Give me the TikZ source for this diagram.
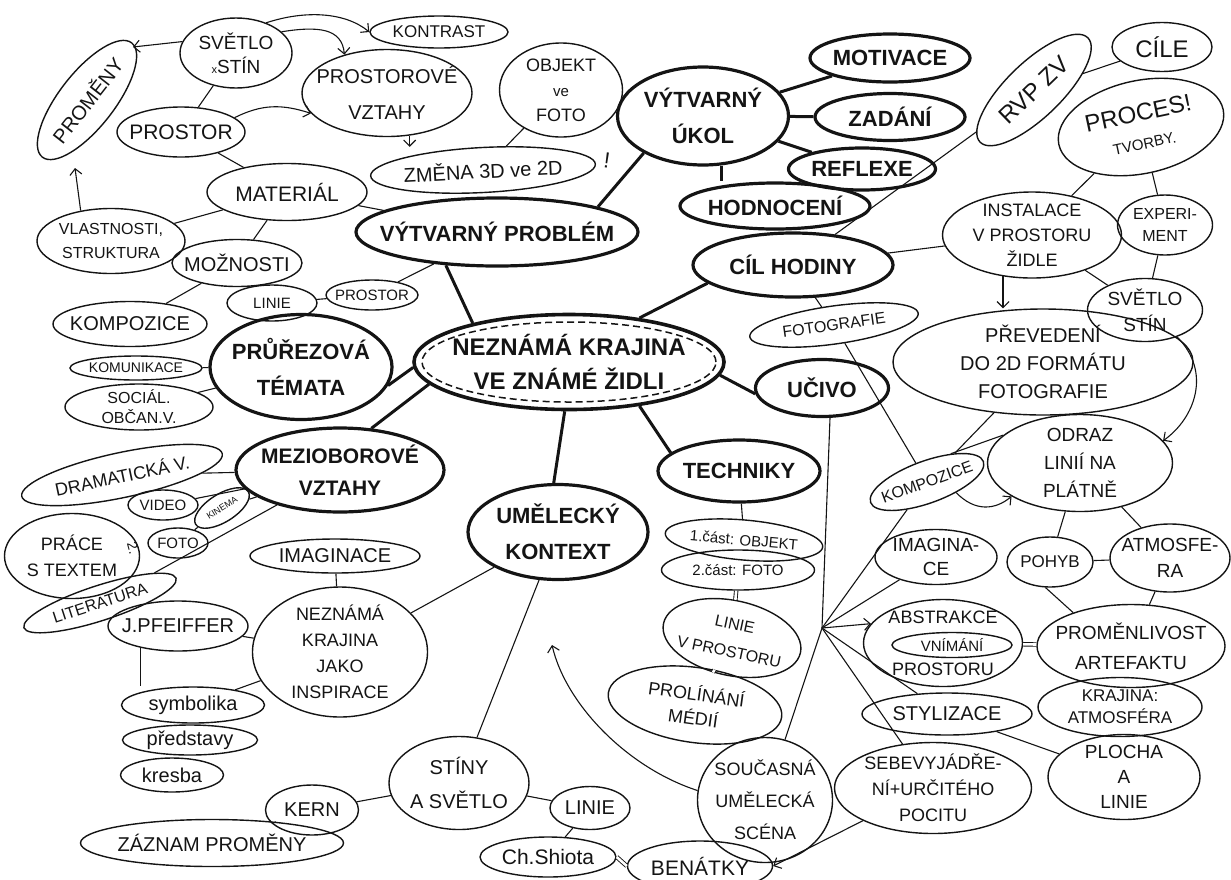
\documentclass[tikz,border=0pt]{standalone}
\usepackage{fontspec}
\setmainfont{Liberation Sans}
\usepackage{xcolor}
\usepackage{tikz}
\usetikzlibrary{arrows.meta, shapes.geometric}
\definecolor{inkP}{HTML}{141414}
\newcommand{\fntS}{\fontsize{15}{18}\selectfont}
\newcommand{\fntXS}{\fontsize{11}{12}\selectfont}
\tikzset{
  bubble/.style={ellipse, draw=inkP, line width=1.4pt, text=inkP, align=center,
    inner sep=-40pt, font=\fontsize{20}{28}\selectfont},
  topic/.style={bubble, line width=3.2pt, font=\fontsize{22}{36}\selectfont\bfseries},
  sz/.style 2 args={minimum width=#1pt, minimum height=#2pt},
  link/.style={draw=inkP, line width=1.1pt},
  branch/.style={draw=inkP, line width=3pt},
  arr/.style={link, -{Straight Barb[length=6pt, width=12pt]}},
  dbl/.style={draw=inkP, double, double distance=2.6pt, line width=0.9pt},
}

\begin{document}
\begin{tikzpicture}[x=1pt, y=-1pt]
\useasboundingbox (0,0) rectangle (1231,879);
\node[topic, sz={310}{95}, line width=3.6pt, font=\fontsize{24}{34}\selectfont\bfseries] (cen) at (569,362) {NEZNÁMÁ KRAJINA\\VE ZNÁMÉ ŽIDLI};
\draw[inkP, line width=1.5pt, dash pattern=on 7pt off 4pt] (cen.center) ellipse (147pt and 40pt);
\node[topic, sz={171}{98}] (ukol) at (703,116) {VÝTVARNÝ\\ÚKOL};
\node[topic, sz={160}{48}] (motiv) at (890,58) {MOTIVACE};
\node[topic, sz={150}{47}] (zadani) at (890,117) {ZADÁNÍ};
\node[topic, sz={147}{42}] (reflex) at (862,169) {REFLEXE};
\node[topic, sz={190}{46}] (hodnoc) at (775,206) {HODNOCENÍ};
\node[topic, sz={282}{68}] (problem) at (497,232) {VÝTVARNÝ PROBLÉM};
\node[topic, sz={200}{64}] (cil) at (793,265) {CÍL HODINY};
\node[topic, sz={182}{105}] (prurez) at (301,367) {PRŮŘEZOVÁ\\TÉMATA};
\node[topic, sz={208}{84}, font=\fontsize{21}{32}\selectfont\bfseries] (meziob) at (340,470) {MEZIOBOROVÉ\\VZTAHY};
\node[topic, sz={180}{95}] (umel) at (558,532) {UMĚLECKÝ\\KONTEXT};
\node[topic, sz={162}{62}] (techn) at (739,471) {TECHNIKY};
\node[topic, sz={133}{57}] (ucivo) at (822,388) {UČIVO};

\node[bubble, sz={145}{55}, rotate=52] (promeny) at (87,100) {PROMĚNY};
\node[bubble, sz={112}{70}, font=\fontsize{19}{24}\selectfont] (svetlo) at (236,53) {SVĚTLO\\{\fntXS x}STÍN};
\node[bubble, sz={138}{32}, font=\fontsize{17}{20}\selectfont] (kontr) at (439,32) {KONTRAST};
\node[bubble, sz={170}{87}, font=\fontsize{20}{36}\selectfont] (prostv) at (387,93) {PROSTOROVÉ\\VZTAHY};
\node[bubble, sz={128}{50}, font=\fontsize{21}{24}\selectfont] (prostor) at (181,132) {PROSTOR};
\node[bubble, sz={123}{94}, font=\fontsize{18}{25}\selectfont] (objekt) at (561,90) {OBJEKT\\{\fontsize{15}{15}\selectfont ve}\\FOTO};
\node[bubble, sz={225}{45}, rotate=3] (zmena) at (483,170) {ZMĚNA 3D ve 2D};
\node[text=inkP, font=\fontsize{22}{22}\selectfont, rotate=-8] (excl) at (607,160) {!};
\node[bubble, sz={160}{57}, font=\fontsize{21}{24}\selectfont] (mater) at (287,192) {MATERIÁL};
\node[bubble, sz={148}{65}, font=\fontsize{16}{24}\selectfont] (vlast) at (111,241) {VLASTNOSTI,\\STRUKTURA};
\node[bubble, sz={130}{47}] (mozn) at (237,263) {MOŽNOSTI};
\node[bubble, sz={90}{36}, font=\fntS] (linieA) at (272,303) {LINIE};
\node[bubble, sz={92}{30}, font=\fntS] (prostorB) at (372,295) {PROSTOR};
\node[bubble, sz={154}{45}] (komp) at (130,324) {KOMPOZICE};
\node[bubble, sz={132}{24}, font=\fontsize{14}{15}\selectfont] (komun) at (136,368) {KOMUNIKACE};
\node[bubble, sz={148}{46}, font=\fontsize{16}{20}\selectfont] (social) at (139,407) {SOCIÁL.\\OBČAN.V.};
\node[bubble, sz={205}{45}, rotate=12, font=\fontsize{18}{20}\selectfont] (dramat) at (122,475) {DRAMATICKÁ V.};
\node[bubble, sz={70}{30}, font=\fntS] (video) at (163,505) {VIDEO};
\node[bubble, sz={62}{28}, rotate=32, font=\fontsize{9}{10}\selectfont] (kinema) at (222,508) {KINEMA};
\node[bubble, sz={60}{30}, font=\fntS] (fotoA) at (178,543) {FOTO};
\node[bubble, sz={135}{85}, font=\fontsize{18}{26}\selectfont] (prace) at (72,556) {PRÁCE\\S TEXTEM};
\node[text=inkP, font=\fontsize{14}{14}\selectfont, rotate=-75] (two) at (133,548) {2.};
\node[bubble, sz={160}{35}, rotate=18, font=\fontsize{16}{18}\selectfont] (liter) at (100,603) {LITERATURA};
\node[bubble, sz={170}{34}] (imagA) at (335,556) {IMAGINACE};
\node[bubble, sz={175}{130}, font=\fontsize{18}{26}\selectfont] (inspir) at (340,652) {NEZNÁMÁ\\KRAJINA\\JAKO\\INSPIRACE};
\node[bubble, sz={140}{50}] (pfeif) at (178,626) {J.PFEIFFER};
\node[bubble, sz={143}{36}] (symb) at (193,705) {symbolika};
\node[bubble, sz={135}{30}] (predst) at (190,740) {představy};
\node[bubble, sz={103}{34}] (kresba) at (172,775) {kresba};
\node[bubble, sz={93}{50}] (kern) at (312,810) {KERN};
\node[bubble, sz={263}{47}] (zaznam) at (212,843) {ZÁZNAM PROMĚNY};
\node[bubble, sz={140}{93}, font=\fontsize{20}{34}\selectfont] (stiny) at (459,783) {STÍNY\\A SVĚTLO};
\node[bubble, sz={80}{43}] (linieB) at (590,808) {LINIE};
\node[bubble, sz={136}{40}, font=\fontsize{21}{22}\selectfont] (shiota) at (548,857) {Ch.Shiota};
\node[bubble, sz={145}{50}, font=\fontsize{21}{22}\selectfont] (benat) at (700,866) {BENÁTKY};
\node[bubble, sz={158}{40}, rotate=-5, font=\fntS] (castA) at (744,540) {1.část: OBJEKT};
\node[bubble, sz={153}{40}, font=\fntS] (castB) at (738,570) {2.část: FOTO};
\node[bubble, sz={140}{75}, rotate=-12, font=\fontsize{16}{28}\selectfont] (liniepr) at (732,638) {LINIE\\V PROSTORU};
\node[bubble, sz={175}{75}, rotate=-8, font=\fontsize{18}{24}\selectfont] (prolin) at (695,705) {PROLÍNÁNÍ\\MÉDIÍ};
\node[bubble, sz={135}{125}, font=\fontsize{18}{32}\selectfont] (soucas) at (765,800) {SOUČASNÁ\\UMĚLECKÁ\\SCÉNA};
\node[bubble, sz={197}{91}, font=\fontsize{18}{26}\selectfont] (sebev) at (933,788) {SEBEVYJÁDŘE-\\NÍ+URČITÉHO\\POCITU};
\node[bubble, sz={170}{42}] (styliz) at (947,714) {STYLIZACE};
\node[bubble, sz={159}{87}, font=\fontsize{18}{26}\selectfont] (abstr) at (943,643) {ABSTRAKCE\\\mbox{}\\PROSTORU};
\node[bubble, sz={120}{25}, font=\fontsize{15}{16}\selectfont] (vnim) at (952,645) {VNÍMÁNÍ};
\node[bubble, sz={188}{83}, font=\fontsize{19}{30}\selectfont] (promenl) at (1131,646) {PROMĚNLIVOST\\ARTEFAKTU};
\node[bubble, sz={164}{59}, font=\fontsize{17}{22}\selectfont] (krajatm) at (1120,707) {KRAJINA:\\ATMOSFÉRA};
\node[bubble, sz={152}{85}, font=\fontsize{19}{25}\selectfont] (plocha) at (1124,777) {PLOCHA\\A\\LINIE};
\node[bubble, sz={122}{55}, font=\fontsize{19}{24}\selectfont] (imagB) at (936,557) {IMAGINA-\\CE};
\node[bubble, sz={86}{50}, font=\fontsize{17}{20}\selectfont] (pohyb) at (1050,562) {POHYB};
\node[bubble, sz={120}{68}, font=\fontsize{19}{26}\selectfont] (atmosf) at (1170,558) {ATMOSFE-\\RA};
\node[bubble, sz={185}{97}, font=\fontsize{19}{28}\selectfont] (odraz) at (1080,463) {ODRAZ\\LINIÍ NA\\PLÁTNĚ};
\node[bubble, sz={120}{42}, rotate=20, font=\fontsize{16}{18}\selectfont] (kompB) at (927,482) {KOMPOZICE};
\node[bubble, sz={300}{106}, font=\fontsize{20}{28}\selectfont] (preved) at (1043,362) {PŘEVEDENÍ\\DO 2D FORMÁTU\\FOTOGRAFIE};
\node[bubble, sz={170}{38}, rotate=8, font=\fontsize{16}{18}\selectfont] (fotog) at (834,325) {FOTOGRAFIE};
\node[bubble, sz={115}{63}, font=\fontsize{19}{26}\selectfont] (svetloB) at (1145,310) {SVĚTLO\\STÍN};
\node[bubble, sz={179}{86}, font=\fontsize{18}{25}\selectfont] (instal) at (1032,235) {INSTALACE\\V PROSTORU\\ŽIDLE};
\node[bubble, sz={95}{60}, font=\fontsize{16}{22}\selectfont] (exper) at (1165,225) {EXPERI-\\MENT};
\node[bubble, sz={168}{93}, rotate=12, font=\fontsize{24}{28}\selectfont] (proces) at (1141,127) {PROCES!\\{\fntS TVORBY.}};
\node[bubble, sz={150}{55}, rotate=44, font=\fontsize{24}{26}\selectfont] (rvp) at (1034,90) {RVP ZV};
\node[bubble, sz={100}{49}, font=\fontsize{24}{26}\selectfont] (cile) at (1162,47) {CÍLE};

\coordinate (hub) at (822,628);
\coordinate (tipP) at (133,47);
\coordinate (tipV) at (75,168);
\coordinate (tipK) at (552,645);

\draw[branch] (cen.158) -- (problem.213);
\draw[branch] (cen.182) -- (prurez.-12);
\draw[branch] (cen.189) -- (meziob.53);
\draw[branch] (cen.-95) -- (umel.95);
\draw[branch] (cen.-32) -- (techn.165);
\draw[branch] (cen.-5) -- (ucivo.185);
\draw[branch] (cen.32) -- (cil.192);
\draw[branch] (problem.14) -- (ukol.212);
\draw[branch] (ukol) -- (motiv);
\draw[branch] (ukol) -- (zadani);
\draw[branch] (ukol) -- (reflex);
\draw[branch] (ukol.-70) -- (ukol.-70 |- hodnoc.north);

\draw[arr] (svetlo.168) -- (tipP);
\draw[arr] (svetlo.45) .. controls (305,10) and (345,12) .. (kontr.west);
\draw[arr] (svetlo.25) .. controls (318,26) and (342,28) .. (prostv.138);
\draw[link] (svetlo) -- (prostor);
\draw[arr] (prostor.15) .. controls (262,104) and (282,104) .. (prostv.195);
\draw[arr] (prostv.-62) -- (prostv.-62 |- zmena.north);
\draw[link] (objekt) -- (zmena);
\draw[link] (prostor) -- (mater);
\draw[link] (mater) -- (problem);
\draw[link] (mater) -- (vlast);
\draw[arr] (vlast.135) -- (tipV);
\draw[link] (mater) -- (mozn);
\draw[link] (mozn) -- (komp);
\draw[link] (mozn) -- (linieA);
\draw[link] (linieA) -- (prostorB);
\draw[link] (prostorB) -- (problem);
\draw[link] (prurez) -- (komun);
\draw[link] (prurez) -- (social);
\draw[link] (meziob) -- (dramat);
\draw[link] (meziob) -- (video);
\draw[link] (meziob) -- (kinema);
\draw[link] (kinema) -- (fotoA);
\draw[link] (meziob) -- (liter);
\draw[link] (umel) -- (inspir);
\draw[link] (inspir) -- (imagA);
\draw[link] (inspir) -- (pfeif);
\draw[link] (inspir) -- (symb);
\draw[link] (pfeif.-150) -- (pfeif.-150 |- symb.north);
\draw[link] (umel) -- (stiny);
\draw[link] (stiny) -- (kern);
\draw[link] (kern) -- (zaznam);
\draw[link] (stiny) -- (linieB);
\draw[link] (linieB) -- (shiota);
\draw[dbl] (shiota.east) -- (benat.west);
\draw[arr] (soucas.172) .. controls (628,768) and (566,705) .. (tipK);
\draw[arr] (sebev.205) -- (benat.east);
\draw[link] (techn) -- (castA);
\draw[dbl] (castB) -- (liniepr);
\draw[dbl] (liniepr) -- (prolin);
\draw[link] (ucivo.-75) -- (hub);
\draw[link] (hub) -- (soucas);
\draw[link] (hub) -- (sebev);
\draw[link] (hub) -- (styliz);
\draw[arr] (hub) -- (abstr.165);
\draw[link] (hub) -- (imagB);
\draw[link] (hub) -- (kompB);
\draw[dbl] (abstr) -- (promenl);
\draw[link] (pohyb.-100) -- (promenl.150);
\draw[link] (atmosf) -- (promenl);
\draw[link] (pohyb) -- (atmosf);
\draw[link] (pohyb) -- (odraz);
\draw[link] (atmosf) -- (odraz);
\draw[arr] (kompB.-40) .. controls (975,512) and (995,510) .. (odraz.206);
\draw[link] (kompB.30) -- (odraz.160);
\draw[link] (styliz) -- (plocha);
\draw[link] (preved) -- (kompB);
\draw[link] (fotog) -- (kompB);
\draw[link] (fotog) -- (cil);
\draw[link] (cil) -- (instal);
\draw[link] (cil) -- (rvp);
\draw[link] (rvp) -- (cile);
\draw[link] (proces) -- (exper);
\draw[link] (proces) -- (instal);
\draw[link] (exper) -- (svetloB);
\draw[link] (instal) -- (svetloB);
\draw[arr] (instal.-125) -- (instal.-125 |- preved.north);
\draw[arr] (svetloB.-40) .. controls (1212,372) and (1195,418) .. (odraz.15);
\end{tikzpicture}
\end{document}
